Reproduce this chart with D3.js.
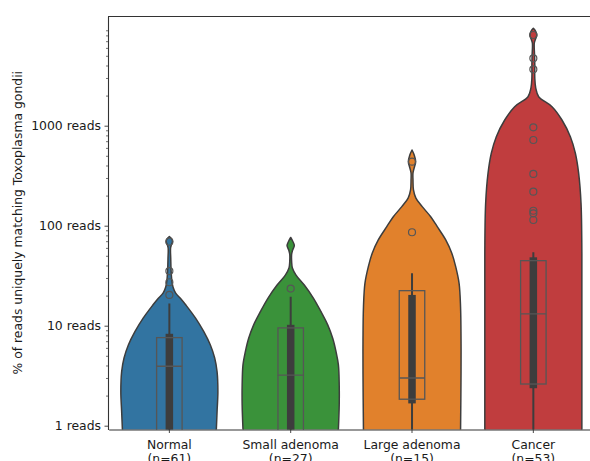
<!DOCTYPE html>
<html>
<head>
<meta charset="utf-8">
<script src="https://cdn.jsdelivr.net/npm/d3@7/dist/d3.min.js"></script>
<style>
  html, body { margin: 0; padding: 0; background: #fff; }
  svg { display: block; font-family: "DejaVu Sans", sans-serif; }
</style>
</head>
<body>
<svg id="chart" width="590" height="461"></svg>
<script>
// Groups and sample sizes
const categories = ["Normal", "Small adenoma", "Large adenoma", "Cancer"];
const counts = [61, 27, 15, 53];
const colors = ["#3274a1", "#3a923a", "#e1812c", "#c03d3e"];

// Violin outlines: [reads, relative density] from top of each violin downwards
const normalProfile = [
  [78.0, 0], [73.6, 0.05], [69.2, 0.065], [64.9, 0.045], [59.8, 0.025], [47.5, 0.028],
  [36.1, 0.035], [28.6, 0.05], [24.4, 0.075], [21.2, 0.13], [18.5, 0.24], [16.1, 0.34],
  [11.9, 0.54], [8.71, 0.71], [6.41, 0.845], [4.75, 0.934], [3.47, 0.983], [2.19, 1.0],
  [1.38, 0.983], [0.85, 0.965]
];
const smallAdenomaProfile = [
  [76.2, 0], [70.3, 0.04], [63.4, 0.075], [57.1, 0.04], [52.1, 0.02], [43.4, 0.02],
  [37.8, 0.035], [32.1, 0.11], [25.5, 0.28], [18.8, 0.47], [13.8, 0.625], [10.2, 0.763],
  [7.48, 0.866], [5.5, 0.934], [4.05, 0.983], [2.55, 1.0], [1.61, 1.0], [0.85, 0.98]
];
const largeAdenomaProfile = [
  [571, 0], [509, 0.045], [437, 0.075], [386, 0.05], [337, 0.02], [286, 0.02],
  [228, 0.03], [189, 0.08], [155, 0.21], [123, 0.385], [97.7, 0.52], [72, 0.695],
  [53, 0.82], [38.9, 0.9], [26.5, 0.97], [15.5, 1.0], [7.2, 1.01], [3.37, 1.01], [0.85, 1.0]
];
const cancerProfile = [
  [9420, 0], [8850, 0.045], [8070, 0.072], [7360, 0.045], [6710, 0.02], [5090, 0.025],
  [4050, 0.03], [3000, 0.03], [2380, 0.05], [1950, 0.11], [1549, 0.385], [1140, 0.59],
  [776, 0.763], [530, 0.866], [334, 0.934], [167, 0.983], [53, 1.0], [11.4, 1.0], [0.85, 1.0]
];
const profiles = [normalProfile, smallAdenomaProfile, largeAdenomaProfile, cancerProfile];

// Inner box of each violin (thick bar = interquartile range, thin line = whiskers)
const innerLow = [0.5, 0.5, 1.67, 2.37];
const innerHigh = [8.3, 10.2, 20.3, 48.3];
const whiskerLow = [0.5, 0.5, 0.5, 0.5];
const whiskerHigh = [16.7, 19.5, 33.4, 54.2];

// Overlaid box plot: quartiles, medians and outliers
const boxQ1 = [0.5, 0.5, 1.84, 2.61];
const boxMedian = [3.93, 3.2, 3.0, 13.1];
const boxQ3 = [7.6, 9.5, 22.4, 44.7];
const outliers = [
  [69.2, 35.2, 27.2, 20.3],
  [23.5],
  [437, 86],
  [8070, 4720, 3665, 964, 719, 329, 219, 141, 133, 114]
];

// Axis ticks
const yTickValues = [1, 10, 100, 1000];
const yMinorTicks = [];
yTickValues.forEach(dec => { for (let k = 2; k <= 9; k++) yMinorTicks.push(k * dec); });

const svg = d3.select("#chart");
const plot = { left: 108, right: 594, top: 16, bottom: 429.5 };

const x = d3.scaleBand().domain(categories).range([plot.left + 0.7, plot.right]).padding(0);
const y = d3.scaleLog().domain([0.916, 12500]).range([plot.bottom, plot.top]);
const halfWidth = d3.scaleLinear().domain([0, 1]).range([0, x.bandwidth() * 0.4]);

svg.append("defs").append("clipPath").attr("id", "plotClip")
  .append("rect")
  .attr("x", plot.left).attr("y", plot.top)
  .attr("width", plot.right - plot.left).attr("height", plot.bottom - plot.top);

const body = svg.append("g").attr("clip-path", "url(#plotClip)");

categories.forEach((cat, i) => {
  const cx = x(cat) + x.bandwidth() / 2;
  const g = body.append("g");

  // violin body
  const area = d3.area()
    .y(d => y(d[0]))
    .x0(d => cx - halfWidth(d[1]))
    .x1(d => cx + halfWidth(d[1]))
    .curve(d3.curveCatmullRom.alpha(0.5));
  g.append("path")
    .datum(profiles[i])
    .attr("d", area)
    .attr("fill", colors[i])
    .attr("stroke", "#3d3d3d")
    .attr("stroke-width", 1.5)
    .attr("stroke-linejoin", "round");

  // inner whisker line and interquartile bar
  g.append("line")
    .attr("x1", cx).attr("x2", cx)
    .attr("y1", y(whiskerHigh[i])).attr("y2", y(whiskerLow[i]))
    .attr("stroke", "#3d3d3d").attr("stroke-width", 2);
  g.append("rect")
    .attr("x", cx - 3.75).attr("width", 7.5)
    .attr("y", y(innerHigh[i]))
    .attr("height", y(innerLow[i]) - y(innerHigh[i]))
    .attr("fill", "#3d3d3d");

  // hollow box with median
  const bw = x.bandwidth() * 0.21;
  g.append("rect")
    .attr("x", cx - bw / 2).attr("width", bw)
    .attr("y", y(boxQ3[i]))
    .attr("height", y(boxQ1[i]) - y(boxQ3[i]))
    .attr("fill", "none")
    .attr("stroke", "#565656").attr("stroke-width", 1.3);
  g.append("line")
    .attr("x1", cx - bw / 2).attr("x2", cx + bw / 2)
    .attr("y1", y(boxMedian[i])).attr("y2", y(boxMedian[i]))
    .attr("stroke", "#565656").attr("stroke-width", 1.3);

  // outliers
  g.selectAll("circle.flier")
    .data(outliers[i])
    .join("circle")
    .attr("class", "flier")
    .attr("cx", cx).attr("cy", d => y(d))
    .attr("r", 3.5)
    .attr("fill", "none")
    .attr("stroke", "#565656").attr("stroke-width", 1.2);
});

// y axis: labelled decades plus minor ticks
const yAxis = svg.append("g")
  .attr("transform", `translate(${plot.left},0)`)
  .call(d3.axisLeft(y).tickValues(yTickValues).tickFormat(d => d + " reads")
    .tickSize(3.5).tickSizeOuter(0).tickPadding(3.5));
yAxis.select(".domain").attr("stroke", "#333").attr("stroke-width", 1.1);
yAxis.selectAll(".tick line").attr("stroke", "#333").attr("stroke-width", 0.9);
yAxis.selectAll(".tick text").attr("font-size", 12.4).attr("fill", "#1a1a1a")
  .attr("font-family", "DejaVu Sans");

svg.append("g")
  .attr("transform", `translate(${plot.left},0)`)
  .call(d3.axisLeft(y).tickValues(yMinorTicks).tickFormat("").tickSize(2).tickSizeOuter(0))
  .call(g => g.select(".domain").remove())
  .selectAll(".tick line").attr("stroke", "#333").attr("stroke-width", 0.7);

// x axis with two-line category labels
const xAxis = svg.append("g")
  .attr("transform", `translate(0,${plot.bottom})`)
  .call(d3.axisBottom(x).tickSize(3.5).tickSizeOuter(0).tickFormat(""));
xAxis.select(".domain").attr("stroke", "#333").attr("stroke-width", 1.1);
xAxis.selectAll(".tick line").attr("stroke", "#333").attr("stroke-width", 0.9);
xAxis.selectAll(".tick").each(function(d, i) {
  const t = d3.select(this).append("text")
    .attr("fill", "#1a1a1a").attr("font-size", 12.4)
    .attr("font-family", "DejaVu Sans")
    .attr("text-anchor", "middle");
  t.append("tspan").attr("x", 0).attr("y", 19).text(d);
  t.append("tspan").attr("x", 0).attr("y", 33.5).text(`(n=${counts[i]})`);
});

// top spine
svg.append("line")
  .attr("x1", plot.left).attr("x2", plot.right)
  .attr("y1", plot.top + 0.5).attr("y2", plot.top + 0.5)
  .attr("stroke", "#333").attr("stroke-width", 1.1);

// y axis title
svg.append("text")
  .attr("transform", `translate(22,${(plot.top + plot.bottom) / 2}) rotate(-90)`)
  .attr("text-anchor", "middle")
  .attr("font-size", 12.4)
  .attr("fill", "#1a1a1a")
  .text("% of reads uniquely matching Toxoplasma gondii");
</script>
</body>
</html>
